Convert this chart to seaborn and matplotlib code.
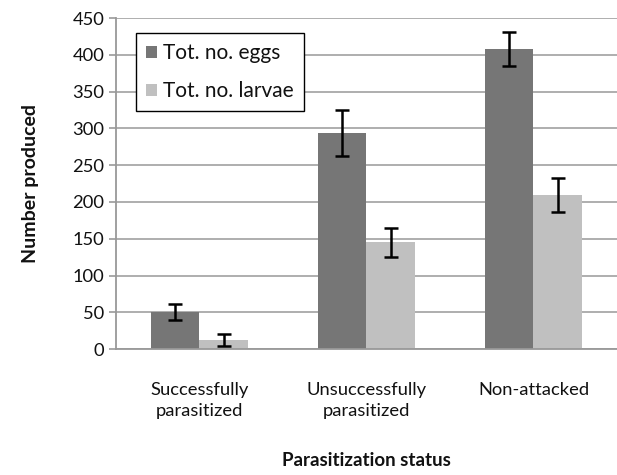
import matplotlib
matplotlib.use("Agg")
import matplotlib.pyplot as plt
import seaborn as sns
import pandas as pd
import numpy as np

categories = ["Successfully\nparasitized", "Unsuccessfully\nparasitized", "Non-attacked"]
series = ["Tot. no. eggs", "Tot. no. larvae"]
eggs = [50, 294, 408]
larvae = [12, 145, 209]
eggs_err = [11, 31, 23]
larvae_err = [8, 20, 23]
yticks = [0, 50, 100, 150, 200, 250, 300, 350, 400, 450]

sns.set_theme(style="white")
plt.rcParams['font.family'] = ['Lato', 'DejaVu Sans']

df = pd.DataFrame({
    "cat": categories * 2,
    "series": [series[0]] * 3 + [series[1]] * 3,
    "value": eggs + larvae,
})
errs = {series[0]: eggs_err, series[1]: larvae_err}

fig = plt.figure(figsize=(6.17, 4.75), dpi=100)
ax = fig.add_axes([0.188, 0.265, 0.812, 0.697])

sns.barplot(data=df, x="cat", y="value", hue="series", order=categories,
            hue_order=series, palette=["#767676", "#c0c0c0"], errorbar=None,
            width=0.58, saturation=1, linewidth=0, ax=ax, zorder=2)

for cont, s in zip(ax.containers, series):
    xs = [p.get_x() + p.get_width() / 2 for p in cont.patches]
    hs = [p.get_height() for p in cont.patches]
    ax.errorbar(xs, hs, yerr=errs[s], fmt="none", ecolor="black",
                elinewidth=1.8, capsize=5, capthick=1.8, zorder=3)

ax.set_ylim(0, 450)
ax.set_xlim(-0.5, 2.5)
ax.set_yticks(yticks)
ax.yaxis.grid(True, color="#a8a8a8", linewidth=1.3, zorder=0)
ax.set_axisbelow(True)
for sp in ["top", "right"]:
    ax.spines[sp].set_visible(False)
for sp in ["left", "bottom"]:
    ax.spines[sp].set_color("#999999")
    ax.spines[sp].set_linewidth(1.3)

ax.set_xticks([-0.5, 0.5, 1.5, 2.5], minor=True)
ax.tick_params(axis="x", which="major", length=0, pad=24, labelsize=13.2, colors="#111111")
for t in ax.get_xticklabels():
    t.set_linespacing(1.35)
ax.tick_params(axis="x", which="minor", length=5, width=1.2, color="#999999", direction="out")
ax.tick_params(axis="y", length=5, width=1.2, color="#999999", direction="out",
               labelsize=13.2, labelcolor="#111111", left=True)

ax.set_xlabel("Parasitization status", fontsize=13.5, fontweight="bold", labelpad=24, color="#111111")
ax.set_ylabel("Number produced", fontsize=14, fontweight="bold", labelpad=24, color="#111111")

leg = ax.legend(loc="upper left", bbox_to_anchor=(0.04, 0.955), borderaxespad=0,
                frameon=True, fancybox=False, edgecolor="black", framealpha=1,
                fontsize=15, handlelength=0.5, handleheight=0.5, handletextpad=0.3,
                labelspacing=0.85, borderpad=0.5, title=None)
leg.get_frame().set_linewidth(1.0)
for t in leg.get_texts():
    t.set_color("#111111")

fig.savefig("out.png", dpi=100)
